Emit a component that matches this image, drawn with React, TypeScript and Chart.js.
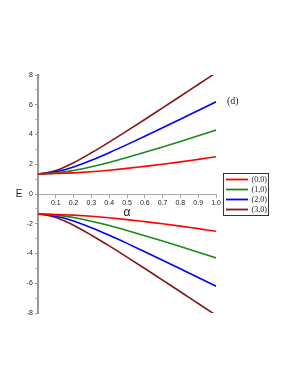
import React, { useEffect, useRef } from "react";
import { Chart, registerables } from "chart.js";

Chart.register(...registerables);

// alpha values (x)
const ALPHA = [0, 0.05, 0.1, 0.15, 0.2, 0.3, 0.4, 0.5, 0.6, 0.7, 0.8, 0.9, 1.0];
const SERIES_LABELS = ["(0,0)", "(1,0)", "(2,0)", "(3,0)"];
const COLORS = ["#ff0000", "#1a8a1a", "#0000ff", "#801818"];

// upper branch
const E00_UP = [1.35, 1.36, 1.38, 1.39, 1.42, 1.5, 1.6, 1.72, 1.86, 2.0, 2.16, 2.33, 2.5];
const E10_UP = [1.35, 1.37, 1.42, 1.49, 1.58, 1.83, 2.12, 2.45, 2.8, 3.16, 3.53, 3.91, 4.3];
const E20_UP = [1.35, 1.39, 1.49, 1.63, 1.82, 2.27, 2.78, 3.32, 3.88, 4.45, 5.03, 5.61, 6.2];
const E30_UP = [1.35, 1.42, 1.58, 1.82, 2.1, 2.77, 3.49, 4.24, 5.01, 5.79, 6.57, 7.36, 8.15];

// lower branch
const E00_DN = [-1.35, -1.36, -1.38, -1.39, -1.42, -1.5, -1.6, -1.72, -1.86, -2.0, -2.16, -2.33, -2.5];
const E10_DN = [-1.35, -1.37, -1.42, -1.49, -1.58, -1.83, -2.12, -2.45, -2.8, -3.16, -3.53, -3.91, -4.3];
const E20_DN = [-1.35, -1.39, -1.49, -1.63, -1.82, -2.27, -2.78, -3.32, -3.88, -4.45, -5.03, -5.61, -6.2];
const E30_DN = [-1.35, -1.42, -1.58, -1.82, -2.1, -2.77, -3.49, -4.24, -5.01, -5.79, -6.57, -7.36, -8.15];

const UPPER = [E00_UP, E10_UP, E20_UP, E30_UP];
const LOWER = [E00_DN, E10_DN, E20_DN, E30_DN];

const Y_MIN = -8;
const Y_MAX = 8;
const X_MIN = 0;
const X_MAX = 1;

const annotPlugin = {
  id: "annot",
  afterDraw(chart: any) {
    const { ctx, chartArea, scales } = chart;
    ctx.save();
    // "E" axis label (upright)
    ctx.fillStyle = "#222";
    ctx.font = '10px "Liberation Sans"';
    ctx.textAlign = "center";
    ctx.textBaseline = "middle";
    ctx.fillText("E", chartArea.left - 19, scales.y.getPixelForValue(0));
    // panel tag
    ctx.font = '10px "Liberation Serif"';
    ctx.textAlign = "left";
    ctx.fillText("(d)", chartArea.right + 11, scales.y.getPixelForValue(6.2));
    // legend
    const boxL = chartArea.right + 7;
    const boxW = 45;
    const boxH = 42;
    const midY = (chartArea.top + chartArea.bottom) / 2;
    const boxT = midY - 21.5;
    ctx.strokeStyle = "#333";
    ctx.lineWidth = 1;
    ctx.strokeRect(Math.round(boxL) + 0.5, Math.round(boxT) + 0.5, boxW, boxH);
    ctx.font = '8px "Liberation Serif"';
    ctx.textBaseline = "middle";
    SERIES_LABELS.forEach((lab, i) => {
      const yy = Math.round(boxT) + 6.5 + i * 10;
      ctx.strokeStyle = COLORS[i];
      ctx.lineWidth = 1.8;
      ctx.beginPath();
      ctx.moveTo(boxL + 3, yy);
      ctx.lineTo(boxL + 25, yy);
      ctx.stroke();
      ctx.fillStyle = "#222";
      ctx.fillText(lab, boxL + 28.5, yy);
    });
    ctx.restore();
  },
};

export default function App() {
  const ref = useRef<HTMLCanvasElement>(null);
  useEffect(() => {
    const datasets: any[] = [];
    UPPER.forEach((arr, i) => {
      datasets.push({
        label: SERIES_LABELS[i],
        data: ALPHA.map((a, j) => ({ x: a, y: arr[j] })),
        borderColor: COLORS[i],
        backgroundColor: COLORS[i],
        borderWidth: 1.6,
        pointRadius: 0,
        cubicInterpolationMode: "monotone",
        fill: false,
      });
    });
    LOWER.forEach((arr, i) => {
      datasets.push({
        label: SERIES_LABELS[i],
        data: ALPHA.map((a, j) => ({ x: a, y: arr[j] })),
        borderColor: COLORS[i],
        backgroundColor: COLORS[i],
        borderWidth: 1.6,
        pointRadius: 0,
        cubicInterpolationMode: "monotone",
        fill: false,
      });
    });
    const chart = new Chart(ref.current as HTMLCanvasElement, {
      type: "line",
      data: { datasets },
      plugins: [annotPlugin],
      options: {
        responsive: false,
        devicePixelRatio: 1,
        animation: false,
        layout: { padding: { top: 75, left: 16, bottom: 63, right: 75 } },
        plugins: { legend: { display: false }, tooltip: { enabled: false } },
        scales: {
          x: {
            type: "linear",
            min: X_MIN,
            max: X_MAX,
            position: { y: 0 } as any,
            afterFit: (s: any) => {
              s.height = 30;
            },
            border: { color: "#aaa", width: 1 },
            grid: { drawOnChartArea: false, drawTicks: true, tickLength: 3, color: "#aaa" },
            ticks: {
              stepSize: 0.1,
              padding: 2,
              color: "#222",
              font: { family: "Liberation Sans", size: 7 },
              maxRotation: 0,
              autoSkip: false,
              callback: (v: any) => (Math.abs(Number(v)) < 1e-9 ? "" : Number(v).toFixed(1)),
            },
            title: {
              display: true,
              text: "α",
              color: "#222",
              font: { family: "Liberation Sans", size: 12 },
              padding: { top: 0, bottom: 4 },
            },
          },
          y: {
            type: "linear",
            min: Y_MIN,
            max: Y_MAX,
            position: "left",
            afterFit: (s: any) => {
              s.width = 22;
            },
            border: { color: "#999", width: 2 },
            grid: {
              drawOnChartArea: false,
              drawTicks: true,
              tickLength: 3,
              color: (c: any) => (Math.abs(c.tick?.value ?? 0) % 2 === 1 ? "#bbb" : "#999"),
            },
            ticks: {
              stepSize: 1,
              padding: 2,
              color: "#222",
              font: { family: "Liberation Sans", size: 7 },
              autoSkip: false,
              callback: (v: any) => (Number(v) % 2 === 0 ? String(v) : ""),
            },
          },
        },
      },
    });
    return () => chart.destroy();
  }, []);
  return (
    <div style={{ position: "absolute", left: 0, top: 0, width: 291, height: 376 }}>
      <canvas ref={ref} width={291} height={376} style={{ width: 291, height: 376, display: "block" }} />
    </div>
  );
}
